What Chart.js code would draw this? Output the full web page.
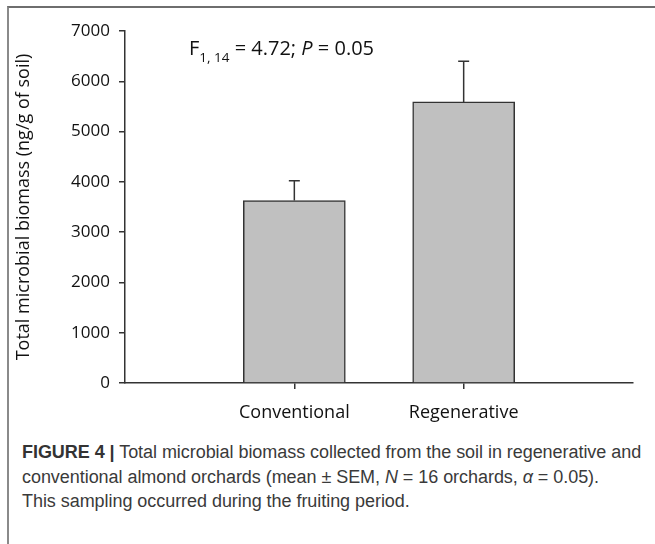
<!DOCTYPE html>
<html>
<head>
<meta charset="utf-8">
<script src="https://cdn.jsdelivr.net/npm/chart.js@4"></script>
<style>
  html, body { margin: 0; padding: 0; background: #fff; }
  #page { position: relative; width: 655px; height: 544px; overflow: hidden; }
  #frame { position: absolute; left: 7px; top: 6px; right: -4px; bottom: -4px;
           border-left: 2px solid #8a8a8a; border-top: 2px solid #6e6e6e; }
  #wrap { position: absolute; left: 0; top: 0; width: 655px; height: 430px; }
  #caption { position: absolute; left: 22px; top: 440px; width: 633px; white-space: nowrap;
             font-family: "Liberation Sans", Arial, sans-serif; font-size: 18px;
             line-height: 24.5px; color: #3a3a3a; letter-spacing: -0.05px; }
  #caption b { color: #333; }
</style>
</head>
<body>
<div id="page">
  <div id="frame"></div>
  <div id="wrap"><canvas id="chart" width="655" height="430"></canvas></div>
  <div id="caption"><b>FIGURE 4 |</b> Total microbial biomass collected from the soil in regenerative and<br>conventional almond orchards (mean ± SEM, <i>N</i> = 16 orchards, <i>α</i> = 0.05).<br>This sampling occurred during the fruiting period.</div>
</div>
<script>
// valeurs
const categories = ['Conventional', 'Regenerative'];
const positions = [1, 2];
const biomass = [3630, 5590];
const sem = [390, 810];
const yTicks = [0, 1000, 2000, 3000, 4000, 5000, 6000, 7000];

const policeAxes = '"Open Sans", "Noto Sans", sans-serif';

// barres d'erreur (vers le haut seulement)
const errorBars = {
    id: 'errorBars',
    afterDatasetsDraw(chart) {
        const { ctx, scales: { x, y } } = chart;
        ctx.save();
        ctx.strokeStyle = '#333';
        ctx.lineWidth = 1.5;
        positions.forEach((p, i) => {
            const px = x.getPixelForValue(p);
            const top = y.getPixelForValue(biomass[i] + sem[i]);
            const base = y.getPixelForValue(biomass[i]);
            ctx.beginPath();
            ctx.moveTo(px, base);
            ctx.lineTo(px, top);
            ctx.moveTo(px - 5.5, top);
            ctx.lineTo(px + 5.5, top);
            ctx.stroke();
        });
        ctx.restore();
    }
};

// texte de la statistique
const statText = {
    id: 'statText',
    afterDraw(chart) {
        const ctx = chart.ctx;
        ctx.save();
        ctx.fillStyle = '#111';
        ctx.textBaseline = 'alphabetic';
        let x0 = 189;
        const y0 = 55;
        const parts = [
            ['F', '20px ' + policeAxes, 0],
            ['1, 14', '13.5px ' + policeAxes, 7],
            [' = 4.72; ', '20px ' + policeAxes, 0],
            ['P', 'italic 20px ' + policeAxes, 0],
            [' = 0.05', '20px ' + policeAxes, 0]
        ];
        parts.forEach(([t, f, dy]) => {
            ctx.font = f;
            ctx.fillText(t, x0, y0 + dy);
            x0 += ctx.measureText(t).width;
        });
        ctx.restore();
    }
};

new Chart(document.getElementById('chart'), {
    type: 'bar',
    data: {
        datasets: [{
            data: positions.map((p, i) => ({ x: p, y: biomass[i] })),
            backgroundColor: '#c0c0c0',
            borderColor: '#333',
            borderWidth: 1.5,
            borderSkipped: 'bottom',
            barThickness: 102
        }]
    },
    options: {
        responsive: false,
        animation: false,
        layout: { padding: { left: 0, right: 22, top: 31, bottom: 0 } },
        plugins: { legend: { display: false }, tooltip: { enabled: false } },
        scales: {
            x: {
                type: 'linear',
                min: 0,
                max: 3,
                offset: false,
                afterBuildTicks: s => { s.ticks = positions.map(v => ({ value: v })); },
                afterFit: s => { s.height = 47; },
                grid: { offset: false, drawOnChartArea: false, drawTicks: true, tickLength: 6, color: '#333', lineWidth: 1.5 },
                border: { color: '#333', width: 1.5 },
                ticks: {
                    callback: (v) => categories[positions.indexOf(v)],
                    color: '#111',
                    font: { family: policeAxes, size: 18 },
                    padding: 13,
                    maxRotation: 0
                }
            },
            y: {
                min: 0,
                max: 7000,
                afterBuildTicks: s => { s.ticks = yTicks.map(v => ({ value: v })); },
                afterFit: s => { s.width = 125; },
                grid: { drawOnChartArea: false, drawTicks: true, tickLength: 6, color: '#333', lineWidth: 1.5 },
                border: { color: '#333', width: 1.5 },
                ticks: {
                    callback: (v) => String(v),
                    color: '#111',
                    font: { family: policeAxes, size: 17 },
                    padding: 9
                },
                title: {
                    display: true,
                    text: 'Total microbial biomass (ng/g of soil)',
                    color: '#111',
                    font: { family: policeAxes, size: 18 },
                    padding: { top: 13, bottom: 2 }
                }
            }
        }
    },
    plugins: [errorBars, statText]
});
</script>
</body>
</html>
